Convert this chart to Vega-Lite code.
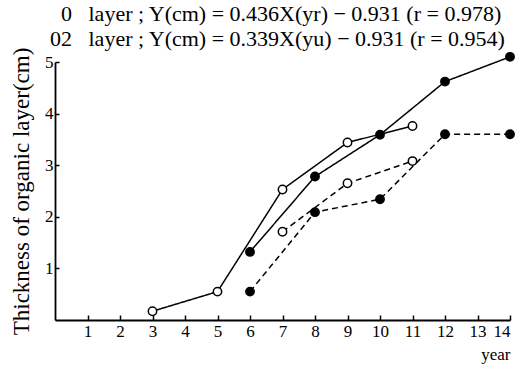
{
  "$schema": "https://vega.github.io/schema/vega-lite/v6.json",
  "autosize": {"type": "none"},
  "padding": {"left": 55, "top": 62, "right": 16, "bottom": 49},
  "width": 455,
  "height": 258,
  "background": "white",
  "config": {
    "view": {"stroke": null},
    "font": "Liberation Serif",
    "axis": {
      "domainColor": "black",
      "domainWidth": 1.8,
      "tickColor": "black",
      "tickWidth": 1.5,
      "grid": false,
      "labelColor": "black",
      "labelFont": "Liberation Serif",
      "labelFontSize": 17,
      "titleFont": "Liberation Serif",
      "titleColor": "black",
      "titleFontWeight": "normal"
    }
  },
  "title": {
    "text": [
      "\u200b\u20070\u00a0\u00a0\u00a0layer ; Y(cm) = 0.436X(yr) − 0.931 (r = 0.978)",
      "02\u00a0\u00a0\u00a0layer ; Y(cm) = 0.339X(yu) − 0.931 (r = 0.954)"
    ],
    "anchor": "start",
    "frame": "group",
    "dx": -5,
    "offset": -4,
    "font": "Liberation Serif",
    "fontSize": 22,
    "fontWeight": "normal",
    "lineHeight": 25,
    "color": "black"
  },
  "data": {
    "values": [
      {"series": "A", "layer": "O", "mark": "open", "year": 3, "thickness": 0.17},
      {"series": "A", "layer": "O", "mark": "open", "year": 5, "thickness": 0.55},
      {"series": "A", "layer": "O", "mark": "open", "year": 7, "thickness": 2.53},
      {"series": "A", "layer": "O", "mark": "open", "year": 9, "thickness": 3.44},
      {"series": "A", "layer": "O", "mark": "open", "year": 11, "thickness": 3.76},
      {"series": "B", "layer": "O", "mark": "filled", "year": 6, "thickness": 1.32},
      {"series": "B", "layer": "O", "mark": "filled", "year": 8, "thickness": 2.78},
      {"series": "B", "layer": "O", "mark": "filled", "year": 10, "thickness": 3.59},
      {"series": "B", "layer": "O", "mark": "filled", "year": 12, "thickness": 4.62},
      {"series": "B", "layer": "O", "mark": "filled", "year": 14, "thickness": 5.1},
      {"series": "C", "layer": "O2", "mark": "open", "year": 7, "thickness": 1.71},
      {"series": "C", "layer": "O2", "mark": "open", "year": 9, "thickness": 2.65},
      {"series": "C", "layer": "O2", "mark": "open", "year": 11, "thickness": 3.08},
      {"series": "D", "layer": "O2", "mark": "filled", "year": 6, "thickness": 0.55},
      {"series": "D", "layer": "O2", "mark": "filled", "year": 8, "thickness": 2.09},
      {"series": "D", "layer": "O2", "mark": "filled", "year": 10, "thickness": 2.34},
      {"series": "D", "layer": "O2", "mark": "filled", "year": 12, "thickness": 3.6},
      {"series": "D", "layer": "O2", "mark": "filled", "year": 14, "thickness": 3.6}
    ]
  },
  "encoding": {
    "x": {
      "field": "year",
      "type": "quantitative",
      "scale": {"domain": [0, 14], "nice": false},
      "axis": {
        "values": [1, 2, 3, 4, 5, 6, 7, 8, 9, 10, 11, 12, 13, 14],
        "tickSize": -5,
        "labelPadding": 8,
        "title": "year",
        "titleAnchor": "end",
        "titleAlign": "right",
        "titleFontSize": 17,
        "titlePadding": 7
      }
    },
    "y": {
      "field": "thickness",
      "type": "quantitative",
      "scale": {"domain": [0, 5], "nice": false},
      "axis": {
        "values": [1, 2, 3, 4, 5],
        "tickSize": -4,
        "labelPadding": 6,
        "title": "Thickness of organic layer(cm)",
        "titleFontSize": 23,
        "titlePadding": 11
      }
    }
  },
  "layer": [
    {
      "mark": {"type": "line", "color": "black", "strokeWidth": 1.5},
      "encoding": {
        "detail": {"field": "series"},
        "strokeDash": {
          "field": "layer",
          "type": "nominal",
          "scale": {"domain": ["O", "O2"], "range": [[1, 0], [6, 4]]},
          "legend": null
        }
      }
    },
    {
      "mark": {"type": "point", "shape": "circle", "size": 70, "stroke": "black", "strokeWidth": 1.5, "opacity": 1, "filled": true},
      "encoding": {
        "fill": {
          "field": "mark",
          "type": "nominal",
          "scale": {"domain": ["open", "filled"], "range": ["white", "black"]},
          "legend": null
        }
      }
    }
  ]
}
